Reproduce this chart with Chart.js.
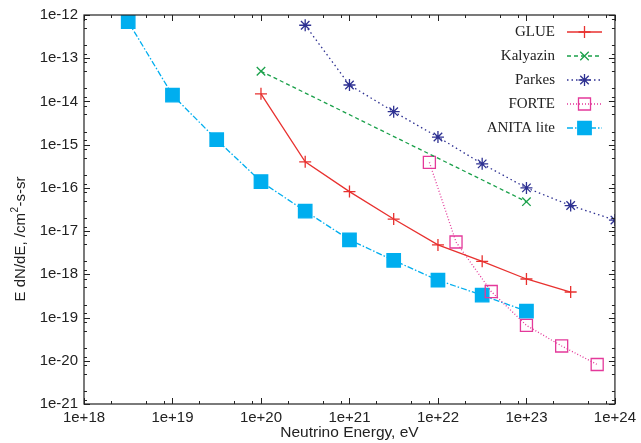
<!DOCTYPE html>
<html>
<head>
<meta charset="utf-8">
<style>
  html, body { margin: 0; padding: 0; background: #fff; }
  #wrap { position: relative; width: 641px; height: 443px; }
</style>
</head>
<body>
<div id="wrap"><canvas id="fluxChart"></canvas></div>

<script src="https://cdn.jsdelivr.net/npm/chart.js@4.4.1/dist/chart.umd.min.js"></script>
<script>
  // energies (eV) and limits E dN/dE
  const glueE   = [1e20, 3.16e20, 1e21, 3.16e21, 1e22, 3.16e22, 1e23, 3.16e23];
  const glueF   = [1.5e-14, 4e-16, 8.2e-17, 1.9e-17, 4.8e-18, 2e-18, 7.8e-19, 3.9e-19];
  const kalyE   = [1e20, 1e23];
  const kalyF   = [5e-14, 4.8e-17];
  const parkesE = [3.16e20, 1e21, 3.16e21, 1e22, 3.16e22, 1e23, 3.16e23, 1e24];
  const parkesF = [5.8e-13, 2.4e-14, 5.8e-15, 1.5e-15, 3.6e-16, 1e-16, 3.9e-17, 1.8e-17];
  const forteE  = [8e21, 1.6e22, 4e22, 1e23, 2.5e23, 6.3e23];
  const forteF  = [3.9e-16, 5.6e-18, 4e-19, 6.6e-20, 2.2e-20, 8.2e-21];
  const anitaE  = [3.16e18, 1e19, 3.16e19, 1e20, 3.16e20, 1e21, 3.16e21, 1e22, 3.16e22, 1e23];
  const anitaF  = [7e-13, 1.4e-14, 1.3e-15, 1.4e-16, 2.9e-17, 6.3e-18, 2.1e-18, 7.3e-19, 3.3e-19, 1.4e-19];

  const xDecades = [18, 19, 20, 21, 22, 23, 24];
  const yDecades = [-21, -20, -19, -18, -17, -16, -15, -14, -13, -12];
  const xMinor = [2, 5, 8];
  const yMinor = [1.25, 2, 5, 8];

  const pts = (xs, ys) => xs.map((x, i) => ({ x: x, y: ys[i] }));
  const isMajor = v => Math.abs(Math.log10(v) - Math.round(Math.log10(v))) < 1e-6;
  const tickFont = { family: 'Liberation Sans', size: 15 };

  // frame, inward ticks on all four sides, y title with superscript, and the key
  const framePlugin = {
    id: 'frame',
    afterDraw(chart) {
      const ctx = chart.ctx;
      const a = chart.chartArea;
      const xs = chart.scales.x, ys = chart.scales.y;
      ctx.save();
      ctx.strokeStyle = '#222';
      ctx.lineWidth = 1.2;
      ctx.setLineDash([]);
      ctx.strokeRect(a.left, a.top, a.right - a.left, a.bottom - a.top);
      ctx.lineWidth = 1;
      ctx.beginPath();
      xDecades.forEach(e => {
        const vals = [[Math.pow(10, e), 6]];
        if (e < 24) xMinor.forEach(m => vals.push([m * Math.pow(10, e), 3]));
        vals.forEach(([v, len]) => {
          const px = Math.round(xs.getPixelForValue(v)) + 0.5;
          ctx.moveTo(px, a.bottom); ctx.lineTo(px, a.bottom - len);
          ctx.moveTo(px, a.top); ctx.lineTo(px, a.top + len);
        });
      });
      yDecades.forEach(e => {
        const vals = [[Math.pow(10, e), 6]];
        if (e < -12) yMinor.forEach(m => vals.push([m * Math.pow(10, e), 3]));
        vals.forEach(([v, len]) => {
          const py = Math.round(ys.getPixelForValue(v)) + 0.5;
          ctx.moveTo(a.left, py); ctx.lineTo(a.left + len, py);
          ctx.moveTo(a.right, py); ctx.lineTo(a.right - len, py);
        });
      });
      ctx.stroke();

      // y axis title, rotated, with a raised 2
      ctx.save();
      ctx.translate(21, 239);
      ctx.rotate(-Math.PI / 2);
      ctx.fillStyle = '#222';
      ctx.textBaseline = 'middle';
      ctx.textAlign = 'left';
      const big = '15px "Liberation Sans"', small = '10px "Liberation Sans"';
      const p1 = 'E dN/dE, /cm', p2 = '2', p3 = '-s-sr';
      ctx.font = big;
      const w1 = ctx.measureText(p1).width, w3 = ctx.measureText(p3).width;
      ctx.font = small;
      const w2 = ctx.measureText(p2).width + 1;
      let x0 = -(w1 + w2 + w3) / 2;
      ctx.font = big;
      ctx.fillText(p1, x0, 0);
      ctx.font = small;
      ctx.fillText(p2, x0 + w1 + 0.5, -6);
      ctx.font = big;
      ctx.fillText(p3, x0 + w1 + w2, 0);
      ctx.restore();

      // key
      ctx.font = '15px "Liberation Serif"';
      ctx.textAlign = 'right';
      ctx.textBaseline = 'middle';
      chart.data.datasets.forEach((ds, i) => {
        const y = 32 + i * 24;
        ctx.fillStyle = '#222';
        ctx.fillText(ds.label, 555, y);
        ctx.strokeStyle = ds.borderColor;
        ctx.lineWidth = ds.borderWidth;
        ctx.setLineDash(ds.borderDash || []);
        ctx.beginPath();
        ctx.moveTo(567, y); ctx.lineTo(602, y);
        ctx.stroke();
        ctx.setLineDash([]);
        ctx.strokeStyle = ds.pointBorderColor;
        ctx.fillStyle = ds.pointBackgroundColor;
        ctx.lineWidth = ds.pointBorderWidth;
        Chart.helpers.drawPoint(ctx, {
          pointStyle: ds.pointStyle, radius: ds.pointRadius,
          rotation: 0, borderWidth: ds.pointBorderWidth
        }, 584.5, y);
      });
      ctx.restore();
    }
  };

  const makeSet = (label, data, color, dash, style, radius, fill) => ({
    label: label,
    data: data,
    showLine: true,
    borderColor: color,
    borderWidth: 1.3,
    borderDash: dash,
    pointStyle: style,
    pointRadius: radius,
    pointHoverRadius: radius,
    pointBorderColor: color,
    pointBackgroundColor: fill,
    pointBorderWidth: 1.3
  });

  new Chart(document.getElementById('fluxChart'), {
    type: 'scatter',
    data: {
      datasets: [
        makeSet('GLUE', pts(glueE, glueF), '#e8312f', [], 'cross', 6, '#e8312f'),
        makeSet('Kalyazin', pts(kalyE, kalyF), '#1aa04a', [4, 3], 'crossRot', 6, '#1aa04a'),
        makeSet('Parkes', pts(parkesE, parkesF), '#2e3192', [1.5, 3], 'star', 6, '#2e3192'),
        makeSet('FORTE', pts(forteE, forteF), '#e4399a', [1, 2], 'rect', 8.5, 'rgba(0,0,0,0)'),
        makeSet('ANITA lite', pts(anitaE, anitaF), '#00aeef', [6, 2, 1.5, 2], 'rect', 9.5, '#00aeef')
      ]
    },
    plugins: [framePlugin],
    options: {
      responsive: true,
      maintainAspectRatio: false,
      animation: false,
      layout: { padding: { top: 14, right: 25, left: 0, bottom: 0 } },
      plugins: {
        legend: { display: false },
        tooltip: { enabled: false }
      },
      scales: {
        x: {
          type: 'logarithmic',
          min: 1e18,
          max: 1e24,
          grid: { display: false, drawTicks: false },
          border: { display: false },
          afterBuildTicks: s => { s.ticks = xDecades.map(e => ({ value: Math.pow(10, e) })); },
          afterFit: s => { s.height = 39; },
          ticks: {
            autoSkip: false, maxRotation: 0, padding: 5, color: '#222', font: tickFont,
            callback: v => isMajor(v) ? '1e+' + Math.round(Math.log10(v)) : ''
          },
          title: {
            display: true, text: 'Neutrino Energy, eV', color: '#222',
            font: { family: 'Liberation Sans', size: 15.5 }, padding: { top: 0, bottom: 1 }
          }
        },
        y: {
          type: 'logarithmic',
          min: 1e-21,
          max: 1e-12,
          grid: { display: false, drawTicks: false },
          border: { display: false },
          afterBuildTicks: s => { s.ticks = yDecades.map(e => ({ value: Math.pow(10, e) })); },
          afterFit: s => { s.width = 84; },
          ticks: {
            autoSkip: false, padding: 6, color: '#222', font: tickFont,
            callback: v => isMajor(v) ? '1e' + Math.round(Math.log10(v)) : ''
          }
        }
      }
    }
  });
</script>
</body>
</html>
